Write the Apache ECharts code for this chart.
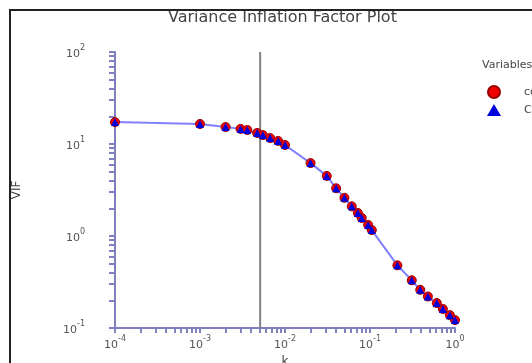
<!DOCTYPE html>
<html>
<head>
<meta charset="utf-8">
<script src="https://cdn.jsdelivr.net/npm/echarts@6/dist/echarts.min.js"></script>
<style>html,body{margin:0;padding:0;background:#fff;}#c{width:532px;height:363px;}</style>
</head>
<body>
<div id="c"></div>
<script>
const kValues = [0.0001, 0.001, 0.002, 0.003, 0.0036, 0.0047, 0.0055, 0.0067, 0.0083, 0.01, 0.02, 0.031, 0.04, 0.05, 0.061, 0.072, 0.08, 0.095, 0.105, 0.21, 0.31, 0.39, 0.48, 0.61, 0.72, 0.87, 1.0];
const vif1 = [17.3, 16.5, 15.3, 14.6, 14.2, 13.2, 12.5, 11.6, 10.8, 9.75, 6.2, 4.5, 3.3, 2.6, 2.1, 1.78, 1.57, 1.32, 1.16, 0.48, 0.33, 0.26, 0.22, 0.187, 0.161, 0.138, 0.122];
const vif2 = [17.3, 16.5, 15.3, 14.6, 14.2, 13.2, 12.5, 11.6, 10.8, 9.75, 6.2, 4.5, 3.3, 2.6, 2.1, 1.78, 1.57, 1.32, 1.16, 0.48, 0.33, 0.26, 0.22, 0.187, 0.161, 0.138, 0.122];
const seriesNames = ['cost', 'Comp'];
const chosenK = 0.0051;
const vRange = [0.1, 100];
const xDecades = [-4, -3, -2, -1, 0];
const yDecades = [-1, 0, 1, 2];
const titleText = 'Variance Inflation Factor Plot';
const legendTitle = 'Variables';
const xName = 'k';
const yName = 'VIF';

function minorLogs(decades) {
  const out = [];
  for (let i = 0; i < decades.length - 1; i++) {
    for (let m = 2; m <= 9; m++) out.push(decades[i] + Math.log10(m));
  }
  return out;
}
const axisColor = '#8080c0';
const richLbl = {
  b: {fontSize: 11, color: '#555', fontFamily: 'DejaVu Sans', lineHeight: 16, verticalAlign: 'bottom'},
  s: {fontSize: 8, color: '#555', fontFamily: 'DejaVu Sans', lineHeight: 9, verticalAlign: 'top'}
};
function fmt(v) {
  const e = Math.round(Math.log10(v));
  return '{b|10}{s|' + e + '}';
}
const chart = echarts.init(document.getElementById('c'));
chart.setOption({
  animation: false,
  backgroundColor: '#fff',
  title: [
    {text: titleText, left: 163, top: 5, textStyle: {fontSize: 16, fontWeight: 'normal', color: '#444', fontFamily: 'DejaVu Sans'}},
    {text: legendTitle, left: 477, top: 55, textStyle: {fontSize: 11, fontWeight: 'normal', color: '#444', fontFamily: 'DejaVu Sans'}}
  ],
  legend: {
    orient: 'vertical', left: 482, top: 80, itemWidth: 14, itemHeight: 12, itemGap: 5,
    textStyle: {fontSize: 11, color: '#444', fontFamily: 'DejaVu Sans', padding: [0, 0, 0, 18]},
    data: [{name: seriesNames[0], icon: 'circle'}, {name: seriesNames[1], icon: 'triangle'}]
  },
  grid: {left: 115, right: 77, top: 52, bottom: 35, outerBoundsMode: 'none', containLabel: false},
  xAxis: [
    {type: 'log', logBase: 10, min: 1e-4, max: 1, name: xName, nameLocation: 'middle', nameGap: 26,
     nameTextStyle: {fontSize: 12, color: '#444', fontFamily: 'DejaVu Sans'},
     axisLine: {onZero: false, lineStyle: {color: axisColor, width: 2}},
     axisTick: {show: true, length: 5, lineStyle: {color: axisColor, width: 2}},
     axisLabel: {formatter: fmt, rich: richLbl, margin: 7},
     splitLine: {show: false}},
    {type: 'value', min: xDecades[0], max: xDecades[xDecades.length - 1], position: 'bottom', gridIndex: 0,
     axisLine: {show: false, onZero: false}, axisLabel: {show: false}, splitLine: {show: false},
     axisTick: {show: true, length: 5, customValues: minorLogs(xDecades), lineStyle: {color: axisColor, width: 2}}}
  ],
  yAxis: [
    {type: 'log', logBase: 10, min: vRange[0], max: vRange[1], name: yName, nameLocation: 'middle', nameGap: 92, nameRotate: 90,
     nameTextStyle: {fontSize: 12, color: '#444', fontFamily: 'DejaVu Sans'},
     axisLine: {onZero: false, lineStyle: {color: axisColor, width: 2}},
     axisTick: {show: true, length: 6, lineStyle: {color: axisColor, width: 2}},
     axisLabel: {formatter: fmt, rich: richLbl, margin: 30},
     splitLine: {show: false}},
    {type: 'value', min: yDecades[0], max: yDecades[yDecades.length - 1], position: 'left', gridIndex: 0,
     axisLine: {show: false, onZero: false}, axisLabel: {show: false}, splitLine: {show: false},
     axisTick: {show: true, length: 6, customValues: minorLogs(yDecades), lineStyle: {color: axisColor, width: 2}}}
  ],
  series: [
    {name: 'chosen k', type: 'line', xAxisIndex: 0, yAxisIndex: 0,
     data: [[chosenK, vRange[0]], [chosenK, vRange[1]]],
     symbol: 'none', silent: true, z: 1,
     lineStyle: {color: '#808080', width: 2}},
    {name: seriesNames[0], type: 'line', xAxisIndex: 0, yAxisIndex: 0,
     data: kValues.map((k, i) => [k, vif1[i]]),
     symbol: 'circle', symbolSize: 9, z: 2,
     itemStyle: {color: '#ee0000', borderColor: '#990000', borderWidth: 1},
     lineStyle: {color: '#8080ff', width: 2}},
    {name: seriesNames[1], type: 'line', xAxisIndex: 0, yAxisIndex: 0,
     data: kValues.map((k, i) => [k, vif2[i]]),
     symbol: 'triangle', symbolSize: 8, z: 3,
     itemStyle: {color: '#0000dd'},
     lineStyle: {color: '#8080ff', width: 0, opacity: 0}}
  ],
  graphic: [{type: 'rect', z: 100, silent: true,
    shape: {x: 10, y: 10, width: 700, height: 500},
    style: {fill: 'none', stroke: '#222', lineWidth: 2}}]
});
</script>
</body>
</html>
